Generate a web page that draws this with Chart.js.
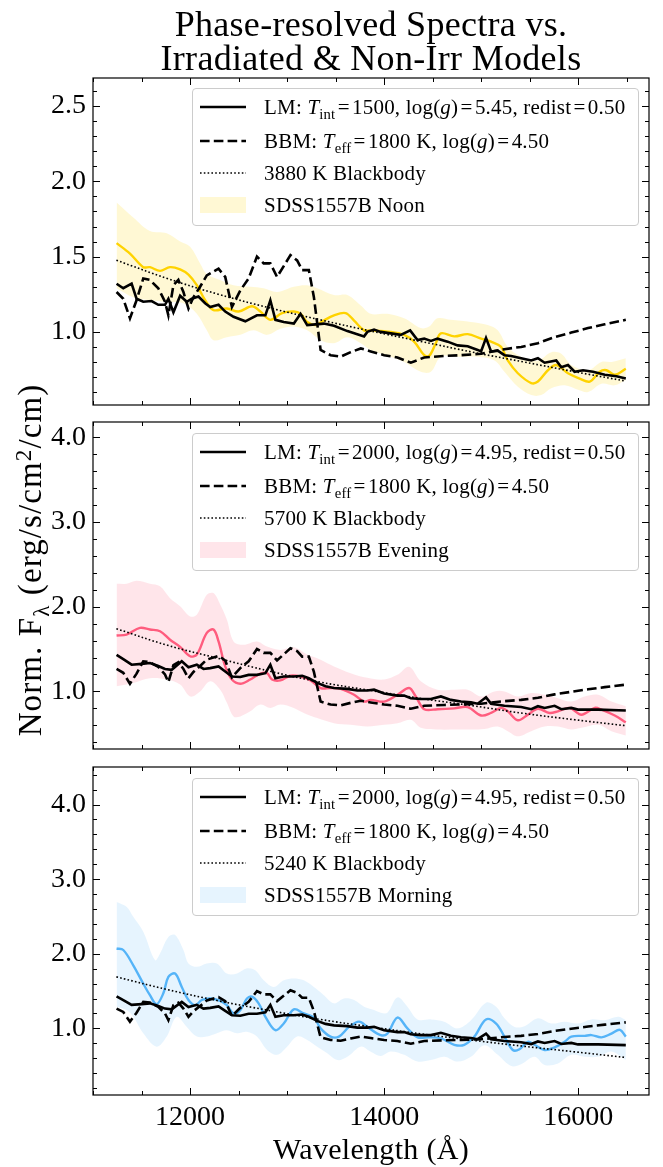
<!DOCTYPE html>
<html>
<head>
<meta charset="utf-8">
<script src="https://cdn.jsdelivr.net/npm/chart.js@4.4.0/dist/chart.umd.min.js"></script>
<style>
  body { margin: 0; background: #fff; }
  #fig { position: relative; width: 663px; height: 1167px; overflow: hidden;
         font-family: "Liberation Serif", serif; color: #000; }
  #fig canvas { position: absolute; left: 0; top: 0; }
  .ttl { position: absolute; left: 0; width: 742px; text-align: center; font-size: 36px;
         line-height: 36px; white-space: nowrap; letter-spacing: 0.3px; }
  .xlab { position: absolute; left: 0; width: 742px; top: 1133px; text-align: center;
          font-size: 30px; line-height: 32px; letter-spacing: 0.3px; }
  .ylab { position: absolute; width: 460px; height: 40px; line-height: 40px; left: -200px; top: 540px;
          text-align: center; font-size: 33px; letter-spacing: 1.1px; transform: rotate(-90deg); white-space: nowrap; }
  .leg { position: absolute; left: 192px; width: 445px; height: 136px; border: 1px solid #cccccc;
         border-radius: 4px; background: rgba(255,255,255,0.8); }
  .leg svg { position: absolute; left: 7px; }
  .row { position: absolute; left: 71px; height: 24px; line-height: 24px; font-size: 21px;
         letter-spacing: 0.2px; white-space: nowrap; }
  .eq { margin: 0 2.3px; }
  .lo { font-size: 70%; position: relative; top: 0.35em; }
  .hi { font-size: 70%; position: relative; top: -0.45em; }
</style>
</head>
<body>
<div id="fig">
  <canvas id="c1" width="663" height="1167"></canvas>
  <canvas id="c2" width="663" height="1167"></canvas>
  <canvas id="c3" width="663" height="1167"></canvas>
  <div class="ttl" style="top:6px">Phase-resolved Spectra vs.</div>
  <div class="ttl" style="top:40px">Irradiated &amp; Non-Irr Models</div>
  <div class="xlab">Wavelength (Å)</div>
  <div class="ylab">Norm. F<span class="lo">λ</span> (erg/s/cm<span class="hi">2</span>/cm)</div>
</div>
<script>
// wavelength grid limits and tick values
const xMin = 10999, xMax = 16730;
const xMajor = [12000, 14000, 16000];

// LM irradiated model, Tint=1500 (noon panel)
const lmNoonLam = [11242,11311,11397,11448,11517,11603,11672,11741,11776,11828,11897,11966,12017,12086,12155,12207,12293,12362,12448,12569,12689,12776,12827,12879,12965,13069,13138,13207,13293,13379,13483,13621,13793,13827,13896,13964,14068,14171,14268,14344,14413,14482,14550,14654,14757,14861,14964,14999,15050,15102,15171,15240,15309,15412,15516,15585,15654,15774,15826,15895,15964,16050,16153,16274,16395,16491];
const lmNoonFlux = [1.32,1.29,1.32,1.22,1.20,1.205,1.18,1.18,1.22,1.13,1.24,1.20,1.22,1.235,1.19,1.165,1.18,1.135,1.10,1.07,1.11,1.11,1.21,1.08,1.065,1.055,1.12,1.045,1.05,1.055,1.04,1.005,0.97,1.0,1.015,1.0,0.99,0.98,1.01,0.945,0.955,0.94,0.955,0.935,0.91,0.905,0.88,0.87,0.96,0.87,0.875,0.845,0.84,0.825,0.81,0.825,0.795,0.81,0.765,0.78,0.735,0.745,0.735,0.715,0.705,0.69];

// LM irradiated model, Tint=2000 (evening + morning panels)
const lmDayLam = [11242,11311,11397,11500,11586,11672,11741,11810,11914,11983,12069,12138,12207,12293,12362,12431,12517,12603,12689,12776,12827,12879,12965,13069,13155,13224,13310,13396,13483,13621,13724,13827,13896,14000,14137,14206,14275,14378,14482,14585,14688,14792,14895,14964,15050,15102,15240,15412,15516,15585,15654,15757,15826,15929,15998,16205,16491];
const lmDayFlux = [1.43,1.38,1.315,1.325,1.335,1.30,1.265,1.255,1.355,1.285,1.315,1.265,1.275,1.295,1.235,1.175,1.17,1.195,1.195,1.215,1.315,1.155,1.175,1.175,1.185,1.155,1.10,1.06,1.04,1.03,1.01,1.01,1.02,0.975,0.95,0.95,0.92,0.91,0.91,0.94,0.90,0.88,0.87,0.855,0.93,0.855,0.83,0.815,0.79,0.825,0.805,0.83,0.79,0.805,0.785,0.785,0.775];

// BBM non-irradiated model, Teff=1800 K
const bbmLam = [11242,11311,11380,11448,11517,11586,11672,11741,11776,11828,11879,11931,11983,12034,12103,12172,12293,12362,12431,12517,12603,12689,12758,12827,12896,12982,13034,13103,13155,13224,13276,13345,13448,13552,13655,13759,13862,14000,14137,14275,14413,14619,14792,14999,15240,15412,15585,15757,15929,16102,16274,16491];
const bbmFlux = [1.265,1.22,1.09,1.21,1.355,1.345,1.29,1.20,1.11,1.31,1.345,1.265,1.155,1.23,1.30,1.375,1.42,1.365,1.165,1.275,1.355,1.50,1.455,1.455,1.365,1.455,1.51,1.475,1.41,1.41,1.23,0.88,0.845,0.835,0.865,0.89,0.87,0.845,0.83,0.795,0.83,0.84,0.845,0.855,0.885,0.90,0.925,0.965,0.995,1.025,1.05,1.08];

// blackbody curves
const bbLam = [11240,11765,12290,12815,13340,13865,14390,14915,15440,15965,16490];
const bbNoon = [1.476,1.355,1.25,1.16,1.08,1.005,0.935,0.865,0.80,0.735,0.673];
const bbEvening = [1.74,1.545,1.39,1.24,1.11,1.01,0.915,0.83,0.74,0.665,0.595];
const bbMorning = [1.69,1.52,1.37,1.24,1.12,1.02,0.925,0.84,0.76,0.685,0.61];

// SDSS1557B noon spectrum and its spread
const noonLam = [11242,11380,11517,11586,11690,11793,11897,11983,12069,12155,12241,12379,12500,12638,12724,12827,12948,13069,13138,13207,13293,13362,13483,13603,13690,13793,13861,14068,14206,14309,14413,14464,14533,14585,14723,14861,14999,15102,15205,15274,15378,15516,15585,15688,15774,15895,16015,16119,16222,16291,16377,16491];
const noonFlux = [1.59,1.52,1.43,1.43,1.405,1.43,1.415,1.38,1.31,1.21,1.145,1.155,1.135,1.17,1.135,1.08,1.125,1.135,1.12,1.065,1.045,1.07,1.11,1.125,1.075,1.01,1.01,1.0,0.98,0.935,0.845,0.84,0.925,0.99,0.97,0.985,0.955,0.935,0.90,0.81,0.725,0.66,0.67,0.745,0.78,0.725,0.69,0.67,0.735,0.745,0.715,0.755];
const noonHiLam = [11242,11414,11586,11759,11897,12000,12103,12172,12310,12448,12620,12758,12896,13069,13207,13310,13483,13621,13759,13861,14033,14206,14378,14464,14550,14688,14895,15068,15171,15274,15412,15585,15723,15826,15929,16102,16240,16343,16491];
const noonHi = [1.86,1.76,1.67,1.655,1.60,1.565,1.455,1.385,1.345,1.31,1.30,1.29,1.265,1.30,1.31,1.29,1.245,1.245,1.175,1.12,1.12,1.09,1.025,1.035,1.09,1.08,1.065,1.045,1.01,0.90,0.835,0.81,0.865,0.855,0.78,0.745,0.80,0.80,0.825];
const noonLoLam = [11242,11414,11586,11759,11931,12069,12172,12241,12379,12517,12655,12793,12931,13069,13207,13345,13483,13621,13759,13861,14068,14206,14378,14482,14585,14757,14964,15137,15240,15378,15516,15619,15723,15861,15998,16102,16240,16377,16491];
const noonLo = [1.29,1.23,1.21,1.20,1.19,1.12,1.01,0.945,0.965,0.98,1.01,0.98,1.02,1.035,1.01,0.945,0.925,0.965,0.925,0.88,0.835,0.80,0.735,0.735,0.835,0.835,0.835,0.81,0.735,0.635,0.58,0.58,0.625,0.645,0.615,0.60,0.655,0.645,0.68];

// SDSS1557B evening spectrum and its spread
const eveLam = [11242,11345,11483,11586,11690,11793,11897,12000,12069,12172,12241,12293,12362,12431,12517,12620,12724,12793,12844,12931,13034,13138,13241,13345,13448,13552,13690,13793,13862,14000,14137,14257,14326,14413,14550,14723,14861,14999,15102,15206,15274,15378,15481,15585,15705,15791,15912,16033,16171,16240,16377,16491];
const eveFlux = [1.66,1.67,1.75,1.73,1.71,1.61,1.525,1.415,1.435,1.69,1.73,1.59,1.295,1.14,1.09,1.14,1.21,1.215,1.14,1.13,1.185,1.175,1.13,1.04,1.04,1.03,0.96,0.88,0.90,0.88,0.96,1.04,0.94,0.79,0.79,0.80,0.815,0.715,0.745,0.805,0.765,0.66,0.725,0.795,0.745,0.765,0.805,0.725,0.805,0.785,0.715,0.635];
const eveHiLam = [11242,11345,11448,11586,11690,11793,11897,12000,12069,12172,12241,12310,12379,12448,12551,12689,12793,12931,13069,13207,13345,13483,13655,13827,14000,14137,14257,14378,14550,14723,14861,14999,15137,15240,15378,15516,15654,15792,15929,16067,16205,16343,16491];
const eveHi = [2.27,2.27,2.305,2.27,2.24,2.10,2.005,1.885,1.905,2.14,2.16,2.025,1.845,1.59,1.55,1.59,1.53,1.49,1.52,1.435,1.375,1.295,1.215,1.16,1.14,1.195,1.29,1.12,1.02,1.02,1.02,0.94,1.0,1.0,0.94,0.98,0.96,0.92,0.88,0.94,0.96,0.88,0.825];
const eveLoLam = [11242,11414,11586,11759,11897,12000,12103,12207,12310,12379,12448,12517,12620,12724,12827,12931,13069,13172,13310,13483,13655,13827,14000,14137,14275,14378,14550,14757,14895,15033,15171,15274,15378,15516,15654,15792,15929,16033,16205,16343,16491];
const eveLo = [1.06,1.10,1.155,1.14,1.08,0.94,1.0,1.12,1.02,0.865,0.705,0.705,0.765,0.845,0.805,0.845,0.805,0.745,0.685,0.625,0.605,0.585,0.605,0.625,0.665,0.57,0.55,0.55,0.55,0.555,0.585,0.53,0.47,0.53,0.585,0.585,0.55,0.57,0.605,0.53,0.48];

// SDSS1557B morning spectrum and its spread
const mornLam = [11242,11311,11414,11517,11586,11655,11724,11776,11845,11914,11983,12052,12121,12207,12310,12379,12448,12517,12586,12638,12706,12776,12879,12965,13069,13172,13276,13345,13448,13534,13638,13741,13827,13964,14033,14137,14240,14344,14464,14585,14723,14826,14930,15050,15154,15240,15326,15395,15481,15550,15654,15757,15860,15929,16067,16136,16240,16343,16429,16491];
const mornFlux = [2.07,2.05,1.845,1.60,1.445,1.325,1.47,1.69,1.735,1.555,1.38,1.31,1.38,1.40,1.37,1.31,1.20,1.245,1.40,1.425,1.335,1.155,0.975,1.065,1.255,1.20,1.145,1.0,0.89,0.89,1.02,1.09,1.02,0.91,0.93,1.145,1.0,0.88,0.88,0.865,0.78,0.78,0.89,1.12,1.065,0.89,0.71,0.72,0.82,0.78,0.71,0.745,0.82,0.89,0.90,0.91,0.88,0.93,0.98,0.89];
const mornHiLam = [11242,11345,11414,11517,11638,11690,11776,11845,11931,11983,12069,12172,12276,12379,12483,12586,12672,12758,12862,12965,13069,13172,13276,13379,13483,13586,13690,13793,13896,13964,14033,14137,14240,14344,14482,14619,14757,14895,15050,15154,15240,15343,15447,15585,15723,15860,15998,16136,16274,16412,16491];
const mornHi = [2.695,2.63,2.495,2.295,1.915,2.005,2.225,2.25,2.05,1.87,1.825,1.87,1.87,1.735,1.735,1.805,1.78,1.645,1.555,1.645,1.67,1.645,1.555,1.445,1.335,1.40,1.38,1.29,1.245,1.21,1.21,1.415,1.29,1.12,1.12,1.09,1.0,1.11,1.345,1.29,1.135,1.02,1.03,1.135,1.065,1.09,1.065,1.12,1.11,1.155,1.11];
const mornLoLam = [11242,11345,11414,11517,11655,11759,11862,11966,12069,12172,12276,12379,12483,12586,12689,12793,12896,13000,13103,13207,13310,13414,13517,13621,13759,13862,13964,14068,14206,14344,14482,14619,14757,14895,15033,15171,15309,15412,15550,15654,15792,15929,16067,16205,16343,16491];
const mornLo = [1.29,1.245,1.155,0.935,0.755,0.89,1.155,1.02,0.89,0.89,0.935,0.975,0.935,0.955,0.89,0.71,0.645,0.755,0.89,0.845,0.755,0.665,0.575,0.62,0.755,0.685,0.63,0.69,0.645,0.555,0.575,0.62,0.555,0.62,0.775,0.645,0.495,0.52,0.62,0.51,0.53,0.645,0.62,0.62,0.69,0.575];

const W = 663, H = 1167;
const tickFont = { family: 'Liberation Serif', size: 28 };

function pts(lam, flux) {
  return lam.map((x, i) => ({ x: x, y: flux[i] }));
}

// box around the axes with inward major/minor ticks on every side
const frameTicks = {
  id: 'frameTicks',
  afterDatasetsDraw(chart, args, o) {
    const { ctx, chartArea: a } = chart;
    const xs = chart.scales.x, ys = chart.scales.y;
    ctx.save();
    ctx.strokeStyle = '#000';
    ctx.lineWidth = 1;
    ctx.beginPath();
    for (let v = 11000; v <= 16500; v += 500) {
      const px = Math.round(xs.getPixelForValue(v)) + 0.5;
      if (px < a.left || px > a.right) continue;
      const len = v % 2000 === 0 ? 7 : 4;
      ctx.moveTo(px, a.bottom); ctx.lineTo(px, a.bottom - len);
      ctx.moveTo(px, a.top); ctx.lineTo(px, a.top + len);
    }
    const k0 = Math.ceil(ys.min / o.minor - 1e-6), k1 = Math.floor(ys.max / o.minor + 1e-6);
    for (let k = k0; k <= k1; k++) {
      const v = k * o.minor;
      const r = v / o.major;
      const len = Math.abs(r - Math.round(r)) < 1e-6 ? 7 : 4;
      const py = Math.round(ys.getPixelForValue(v)) + 0.5;
      ctx.moveTo(a.left, py); ctx.lineTo(a.left + len, py);
      ctx.moveTo(a.right, py); ctx.lineTo(a.right - len, py);
    }
    ctx.stroke();
    ctx.lineWidth = 1.2;
    ctx.strokeRect(a.left, a.top, a.right - a.left, a.bottom - a.top);
    ctx.restore();
  }
};

function makePanel(p) {
  const datasets = [
    { data: pts(bbLam, p.bb), borderColor: '#000', borderWidth: 1.6, borderDash: [1.6, 2.2], tension: 0.4, fill: false },
    { data: pts(bbmLam, bbmFlux), borderColor: '#000', borderWidth: 2.6, borderDash: [9.6, 4.2], tension: 0, fill: false },
    { data: pts(p.lmLam, p.lmFlux), borderColor: '#000', borderWidth: 2.6, tension: 0, fill: false },
    { data: pts(p.lam, p.flux), borderColor: p.color, borderWidth: 2.4, tension: 0.35, fill: false },
    { data: pts(p.hiLam, p.hi), borderWidth: 0, borderColor: 'rgba(0,0,0,0)', backgroundColor: p.band, tension: 0.35, fill: '+1' },
    { data: pts(p.loLam, p.lo), borderWidth: 0, borderColor: 'rgba(0,0,0,0)', tension: 0.35, fill: false }
  ];
  const xh = p.showX ? H - p.bottom : 0;
  new Chart(document.getElementById(p.id), {
    type: 'line',
    data: { datasets: datasets },
    options: {
      responsive: false,
      animation: false,
      devicePixelRatio: 1,
      layout: { padding: { top: p.top, bottom: H - p.bottom - xh, left: 0, right: W - 649 } },
      elements: { point: { radius: 0 } },
      plugins: { legend: { display: false }, tooltip: { enabled: false },
                 frameTicks: { major: p.major, minor: p.minor } },
      scales: {
        x: {
          type: 'linear', min: xMin, max: xMax,
          grid: { display: false, drawTicks: false }, border: { display: false },
          ticks: { display: p.showX, font: tickFont, color: '#000', padding: 6, maxRotation: 0,
                   autoSkip: false, callback: v => String(v) },
          afterBuildTicks: s => { s.ticks = xMajor.map(v => ({ value: v })); },
          afterFit: s => { s.height = xh; }
        },
        y: {
          type: 'linear', min: p.ymin, max: p.ymax,
          grid: { display: false, drawTicks: false }, border: { display: false },
          ticks: { font: tickFont, color: '#000', padding: 7, callback: v => v.toFixed(1) },
          afterBuildTicks: s => { s.ticks = p.yMajor.map(v => ({ value: v })); },
          afterFit: s => { s.width = 93; }
        }
      }
    },
    plugins: [frameTicks]
  });
}

makePanel({ id: 'c1', top: 78, bottom: 405, ymin: 0.514, ymax: 2.687, major: 0.5, minor: 0.1,
  yMajor: [1.0, 1.5, 2.0, 2.5], bb: bbNoon, lmLam: lmNoonLam, lmFlux: lmNoonFlux,
  lam: noonLam, flux: noonFlux, hiLam: noonHiLam, hi: noonHi, loLam: noonLoLam, lo: noonLo,
  color: '#FFD300', band: 'rgba(255,215,0,0.17)', showX: false });
makePanel({ id: 'c2', top: 422, bottom: 749, ymin: 0.32, ymax: 4.18, major: 1, minor: 0.2,
  yMajor: [1, 2, 3, 4], bb: bbEvening, lmLam: lmDayLam, lmFlux: lmDayFlux,
  lam: eveLam, flux: eveFlux, hiLam: eveHiLam, hi: eveHi, loLam: eveLoLam, lo: eveLo,
  color: '#FF5C7E', band: 'rgba(255,92,126,0.16)', showX: false });
makePanel({ id: 'c3', top: 767, bottom: 1095, ymin: 0.107, ymax: 4.503, major: 1, minor: 0.2,
  yMajor: [1, 2, 3, 4], bb: bbMorning, lmLam: lmDayLam, lmFlux: lmDayFlux,
  lam: mornLam, flux: mornFlux, hiLam: mornHiLam, hi: mornHi, loLam: mornLoLam, lo: mornLo,
  color: '#55B4F8', band: 'rgba(85,180,248,0.15)', showX: true });

// legends: same layout in each panel
const legends = [
  { top: 88, lm: '1500', lg: '5.45', bb: '3880', name: 'Noon', band: 'rgba(255,215,0,0.17)' },
  { top: 433, lm: '2000', lg: '4.95', bb: '5700', name: 'Evening', band: 'rgba(255,92,126,0.16)' },
  { top: 778, lm: '2000', lg: '4.95', bb: '5240', name: 'Morning', band: 'rgba(85,180,248,0.15)' }
];
const eq = '<span class="eq">=</span>';
const fig = document.getElementById('fig');
legends.forEach(l => {
  const box = document.createElement('div');
  box.className = 'leg';
  box.style.top = l.top + 'px';
  box.innerHTML =
    '<svg style="top:8px" width="47" height="20"><line x1="0" y1="10" x2="46" y2="10" stroke="#000" stroke-width="2.6"/></svg>' +
    '<svg style="top:42px" width="47" height="20"><line x1="0" y1="10" x2="46" y2="10" stroke="#000" stroke-width="2.6" stroke-dasharray="9.6 4.2"/></svg>' +
    '<svg style="top:74px" width="47" height="20"><line x1="0" y1="10" x2="46" y2="10" stroke="#000" stroke-width="1.6" stroke-dasharray="1.6 2.2"/></svg>' +
    '<svg style="top:106px" width="47" height="20"><rect x="0" y="2" width="46" height="16" fill="' + l.band + '"/></svg>' +
    '<div class="row" style="top:6px">LM: <i>T</i><span class="lo">int</span>' + eq + l.lm + ', log(<i>g</i>)' + eq + l.lg + ', redist' + eq + '0.50</div>' +
    '<div class="row" style="top:40px">BBM: <i>T</i><span class="lo">eff</span>' + eq + '1800 K, log(<i>g</i>)' + eq + '4.50</div>' +
    '<div class="row" style="top:72px">' + l.bb + ' K Blackbody</div>' +
    '<div class="row" style="top:104px">SDSS1557B ' + l.name + '</div>';
  fig.appendChild(box);
});
</script>
</body>
</html>
